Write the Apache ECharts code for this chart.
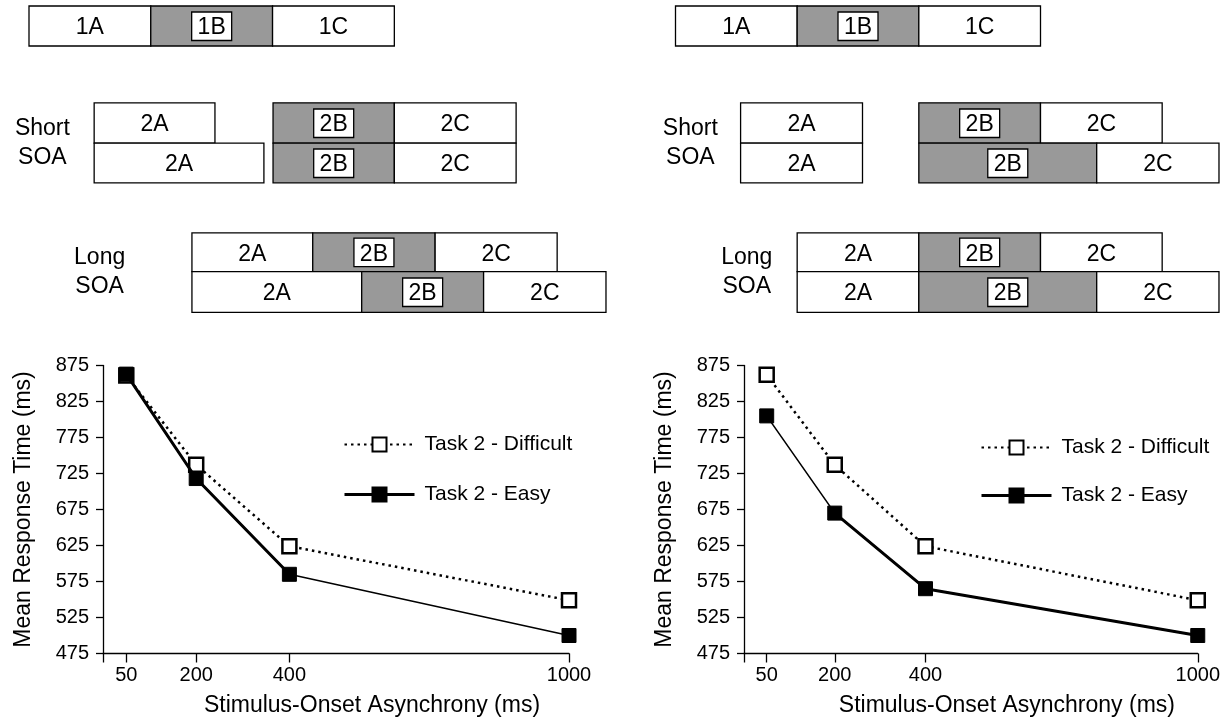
<!DOCTYPE html>
<html><head><meta charset="utf-8">
<script src="https://cdn.jsdelivr.net/npm/echarts@6/dist/echarts.min.js"></script>
<style>html,body{margin:0;padding:0;background:#fff}#c{width:1223px;height:720px}</style>
</head><body><div id="c"></div>
<script>
// ---------- data ----------
const soaValues = [50, 200, 400, 1000];
const xTickLabels = [50, 200, 400, 1000];
const yTickLabels = [475, 525, 575, 625, 675, 725, 775, 825, 875];
const leftDifficult = [861, 737, 624, 549];
const leftEasy = [863, 718, 585, 500];
const rightDifficult = [862, 737, 624, 549];
const rightEasy = [805, 670, 565, 500];
const seriesNames = ['Task 2 - Difficult', 'Task 2 - Easy'];
const xAxisTitle = 'Stimulus-Onset Asynchrony (ms)';
const yAxisTitle = 'Mean Response Time (ms)';

// stage boxes: [start, end, row, label, shaded]
const leftStages = [
  [0, 1, 0, '1A', 0], [1, 2, 0, '1B', 1], [2, 3, 0, '1C', 0],
  [0.535, 1.527, 1, '2A', 0], [2.004, 3, 1, '2B', 1], [3, 4, 1, '2C', 0],
  [0.535, 1.929, 2, '2A', 0], [2.004, 3, 2, '2B', 1], [3, 4, 2, '2C', 0],
  [1.338, 2.33, 3, '2A', 0], [2.33, 3.335, 3, '2B', 1], [3.335, 4.337, 3, '2C', 0],
  [1.338, 2.732, 4, '2A', 0], [2.732, 3.733, 4, '2B', 1], [3.733, 4.738, 4, '2C', 0]
];
const rightStages = [
  [0, 1, 0, '1A', 0], [1, 2, 0, '1B', 1], [2, 3, 0, '1C', 0],
  [0.535, 1.537, 1, '2A', 0], [2, 3, 1, '2B', 1], [3, 4, 1, '2C', 0],
  [0.535, 1.537, 2, '2A', 0], [2, 3.462, 2, '2B', 1], [3.462, 4.467, 2, '2C', 0],
  [1, 2, 3, '2A', 0], [2, 3, 3, '2B', 1], [3, 4, 3, '2C', 0],
  [1, 2, 4, '2A', 0], [2, 3.462, 4, '2B', 1], [3.462, 4.467, 4, '2C', 0]
];
const soaLabels = ['Short\nSOA', 'Long\nSOA'];

// ---------- layout / style ----------
const FONT = "'Liberation Sans', Arial, Helvetica, sans-serif";
const GRAY = '#999999';
const ROWS = [[0, 1], [2.42, 3.43], [3.43, 4.42], [5.67, 6.64], [6.64, 7.66]];
const LABEL_BLOCKS = [[2.42, 4.42], [5.67, 7.66]];
const leftLabelX = [0.11, 0.58];
const rightLabelX = [0.122, 0.586];

function stageRenderer(stages) {
  return function (params, api) {
    const d = stages[params.dataIndex];
    const row = ROWS[d[2]];
    const a = api.coord([d[0], row[0]]);
    const b = api.coord([d[1], row[1]]);
    const x = Math.min(a[0], b[0]), y = Math.min(a[1], b[1]);
    const w = Math.abs(b[0] - a[0]), h = Math.abs(b[1] - a[1]);
    const cx = x + w / 2, cy = y + h / 2;
    const children = [{
      type: 'rect', shape: { x: x, y: y, width: w, height: h },
      style: { fill: d[4] ? GRAY : '#fff', stroke: '#000', lineWidth: 1.3 }
    }];
    if (d[4]) {
      children.push({
        type: 'rect', shape: { x: cx - 20, y: cy - 14, width: 40, height: 28.5 },
        style: { fill: '#fff', stroke: '#000', lineWidth: 1.3 }
      });
    }
    children.push({
      type: 'text',
      style: { text: d[3], x: cx, y: cy + 2, align: 'center', verticalAlign: 'middle',
        fontSize: 23, fontFamily: FONT, fill: '#000' }
    });
    return { type: 'group', children: children };
  };
}
function labelRenderer(xs) {
  return function (params, api) {
    const blk = LABEL_BLOCKS[params.dataIndex];
    const p = api.coord([xs[params.dataIndex], (blk[0] + blk[1]) / 2]);
    return {
      type: 'text',
      style: { text: soaLabels[params.dataIndex], x: p[0], y: p[1], align: 'center',
        verticalAlign: 'middle', fontSize: 23, lineHeight: 29, fontFamily: FONT, fill: '#000' }
    };
  };
}

function diagramAxes(idx) {
  return {
    x: { type: 'value', gridIndex: idx, min: 0, max: 4.5, show: false },
    y: { type: 'value', gridIndex: idx, min: 0, max: 8, inverse: true, show: false }
  };
}
function chartXAxis(idx) {
  return {
    type: 'value', gridIndex: idx, min: 0, max: 1000,
    axisLine: { show: true, lineStyle: { color: '#000', width: 1.3 } },
    axisTick: { show: true, customValues: [0].concat(xTickLabels), length: 9, lineStyle: { color: '#000', width: 1.3 } },
    axisLabel: { customValues: xTickLabels, formatter: v => String(v), fontSize: 20, color: '#000', fontFamily: FONT, margin: 12 },
    splitLine: { show: false },
    name: xAxisTitle, nameLocation: 'middle', nameGap: 41,
    nameTextStyle: { fontSize: 23, color: '#000', fontFamily: FONT, padding: [0, 0, 0, 72] }
  };
}
function chartYAxis(idx) {
  return {
    type: 'value', gridIndex: idx, min: 475, max: 875,
    axisLine: { show: true, lineStyle: { color: '#000', width: 1.3 } },
    axisTick: { show: true, customValues: yTickLabels, length: 7, lineStyle: { color: '#000', width: 1.3 } },
    axisLabel: { customValues: yTickLabels, formatter: v => String(v), fontSize: 20, color: '#000', fontFamily: FONT, margin: 14 },
    splitLine: { show: false },
    name: yAxisTitle, nameLocation: 'middle', nameRotate: 90, nameGap: 68,
    nameTextStyle: { fontSize: 23, color: '#000', fontFamily: FONT }
  };
}
function pairs(vals) { return soaValues.map((x, i) => [x, vals[i]]); }

function lineSeries(idx, difficult, easy, thickFrom, thickTo) {
  return [
    {
      type: 'line', name: seriesNames[0], xAxisIndex: idx, yAxisIndex: idx,
      data: pairs(difficult), symbol: 'rect', symbolSize: 14,
      itemStyle: { color: '#fff', borderColor: '#000', borderWidth: 2.5 },
      lineStyle: { color: '#000', width: 2.5, type: [2.5, 4] }, z: 3, animation: false
    },
    {
      type: 'line', name: 'easy-thick', xAxisIndex: idx, yAxisIndex: idx,
      data: pairs(easy).slice(thickFrom, thickTo), symbol: 'none',
      lineStyle: { color: '#000', width: 3 }, z: 4, silent: true, animation: false
    },
    {
      type: 'line', name: seriesNames[1], xAxisIndex: idx, yAxisIndex: idx,
      data: pairs(easy), symbol: 'rect', symbolSize: 14,
      itemStyle: { color: '#000', borderColor: '#000', borderWidth: 1 },
      lineStyle: { color: '#000', width: 1.6 }, z: 5, animation: false
    }
  ];
}
function legendAt(left, top, gap) {
  return {
    left: left, top: top, orient: 'vertical', padding: 0, itemWidth: 70, itemHeight: 17.5, itemGap: gap,
    selectedMode: false,
    data: [{ name: seriesNames[0] }, { name: seriesNames[1], lineStyle: { width: 3 } }],
    textStyle: { fontSize: 21, color: '#000', fontFamily: FONT, padding: [0, 0, 0, 5] }
  };
}

const dl = diagramAxes(0), dr = diagramAxes(1);
const option = {
  backgroundColor: '#fff',
  animation: false,
  grid: [
    { left: 29, top: 6, width: 548, height: 320 },
    { left: 675.5, top: 6, width: 550, height: 320 },
    { left: 103, top: 365.5, width: 466, height: 288 },
    { left: 744, top: 365.5, width: 466, height: 288 }
  ],
  xAxis: [dl.x, dr.x, chartXAxis(2), chartXAxis(3)],
  yAxis: [dl.y, dr.y, chartYAxis(2), chartYAxis(3)],
  legend: [legendAt(343, 434, 29), legendAt(980, 437, 27)],
  series: [
    { type: 'custom', xAxisIndex: 0, yAxisIndex: 0, renderItem: stageRenderer(leftStages),
      data: leftStages.map(d => [d[0], d[2], d[1]]), encode: { x: [0, 2], y: 1 }, silent: true },
    { type: 'custom', xAxisIndex: 1, yAxisIndex: 1, renderItem: stageRenderer(rightStages),
      data: rightStages.map(d => [d[0], d[2], d[1]]), encode: { x: [0, 2], y: 1 }, silent: true },
    { type: 'custom', xAxisIndex: 0, yAxisIndex: 0, renderItem: labelRenderer(leftLabelX),
      data: soaLabels.map((s, i) => [leftLabelX[i], i]), silent: true },
    { type: 'custom', xAxisIndex: 1, yAxisIndex: 1, renderItem: labelRenderer(rightLabelX),
      data: soaLabels.map((s, i) => [rightLabelX[i], i]), silent: true }
  ].concat(lineSeries(2, leftDifficult, leftEasy, 0, 3))
   .concat(lineSeries(3, rightDifficult, rightEasy, 1, 4))
};
const chart = echarts.init(document.getElementById('c'), null, { renderer: 'canvas' });
chart.setOption(option);
</script>
</body></html>
